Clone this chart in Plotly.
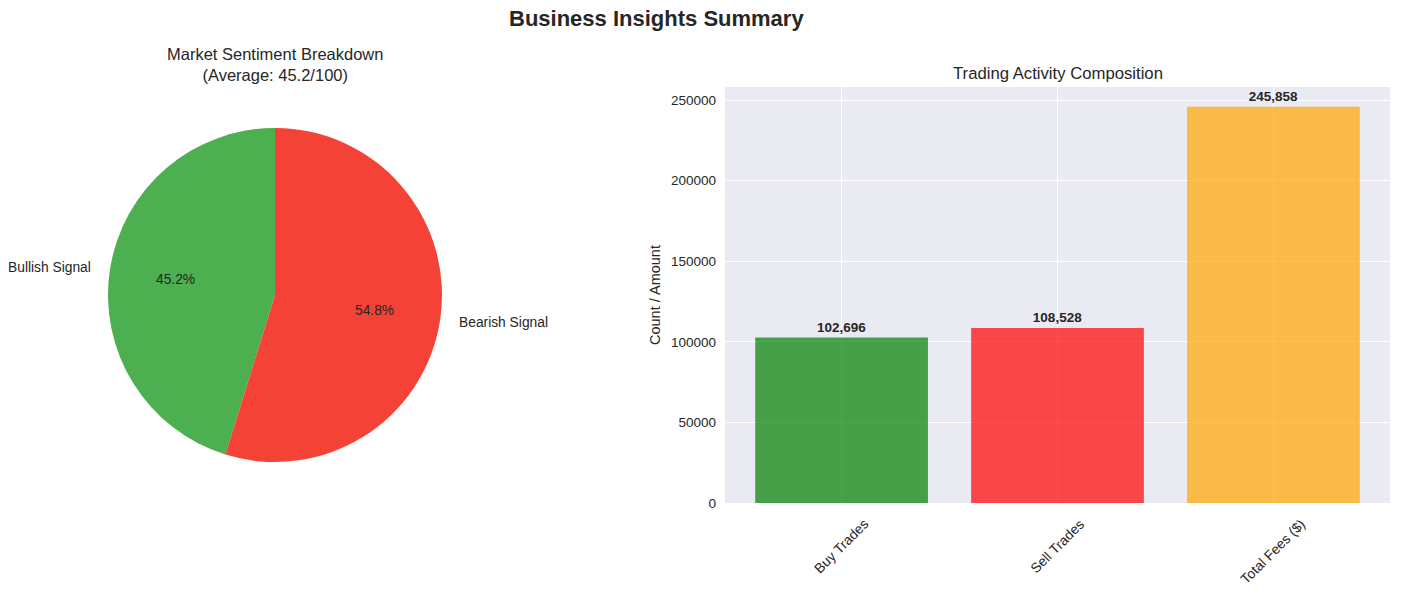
import math
import plotly.graph_objects as go

W, H = 1401, 593
HR = 585  # effective paper height seen in the rendered page

# data
sentiment_labels = ["Bullish Signal", "Bearish Signal"]
sentiment_values = [45.2, 54.8]
sentiment_colors = ["#4caf50", "#f44336"]
avg_sentiment = 45.2

trade_categories = ["Buy Trades", "Sell Trades", "Total Fees ($)"]
trade_values = [102696, 108528, 245858]
trade_colors = ["rgba(0,128,0,0.7)", "rgba(255,0,0,0.7)", "rgba(255,165,0,0.7)"]

TXT = "#262626"
FONT = "Liberation Sans, Arial, sans-serif"


def py_(y):
    # pixel row (from top) -> paper fraction
    return 1 - y / HR


# pie geometry in pixels
cx, cy, r = 275, 295, 167
total = sum(sentiment_values)

fig = go.Figure()

fig.add_trace(go.Pie(
    labels=sentiment_labels,
    values=sentiment_values,
    marker=dict(colors=sentiment_colors, line=dict(width=0)),
    sort=False,
    direction="clockwise",
    rotation=-360 * sentiment_values[0] / total,
    textinfo="none",
    hoverinfo="label+percent",
    domain=dict(x=[(cx - r) / W, (cx + r) / W], y=[py_(cy + r), py_(cy - r)]),
    showlegend=False,
))

fig.add_trace(go.Bar(
    x=[0, 1, 2],
    y=trade_values,
    width=0.8,
    marker=dict(color=trade_colors, line=dict(width=0)),
    text=[f"{v:,}" for v in trade_values],
    texttemplate="<b>%{text}</b>",
    textposition="outside",
    textfont=dict(size=13.5, color=TXT, family=FONT),
    cliponaxis=False,
    showlegend=False,
))

annotations = []

# pie labels and percentages like matplotlib (labeldistance 1.1, pctdistance 0.6)
cum = 0
for lab, v in zip(sentiment_labels, sentiment_values):
    theta = math.radians(90 + 360 * (cum + v / 2) / total)
    cum += v
    lx = cx + 1.1 * r * math.cos(theta)
    ly = cy - 1.1 * r * math.sin(theta)
    annotations.append(dict(
        x=lx / W, y=py_(ly), xref="paper", yref="paper", text=lab, showarrow=False,
        xanchor="right" if math.cos(theta) < 0 else "left", yanchor="middle",
        font=dict(size=13.8, color=TXT, family=FONT),
    ))
    px = cx + 0.6 * r * math.cos(theta)
    pyy = cy - 0.6 * r * math.sin(theta)
    annotations.append(dict(
        x=px / W, y=py_(pyy), xref="paper", yref="paper", text=f"{100 * v / total:.1f}%",
        showarrow=False, xanchor="center", yanchor="middle",
        font=dict(size=13.8, color=TXT, family=FONT),
    ))

# titles
annotations.append(dict(
    x=656 / W, y=py_(18), xref="paper", yref="paper", text="<b>Business Insights Summary</b>",
    showarrow=False, xanchor="center", yanchor="middle", font=dict(size=22, color=TXT, family=FONT),
))
annotations.append(dict(
    x=275 / W, y=py_(64), xref="paper", yref="paper",
    text=f"Market Sentiment Breakdown<br>(Average: {avg_sentiment}/100)",
    showarrow=False, xanchor="center", yanchor="middle", font=dict(size=16.5, color=TXT, family=FONT),
))
annotations.append(dict(
    x=1058 / W, y=py_(73), xref="paper", yref="paper", text="Trading Activity Composition",
    showarrow=False, xanchor="center", yanchor="middle", font=dict(size=16.7, color=TXT, family=FONT),
))

# rotated x tick labels, centred on ticks
for i, cat in enumerate(trade_categories):
    annotations.append(dict(
        x=i, y=py_(514), xref="x", yref="paper", text=cat, showarrow=False,
        textangle=-45, xanchor="center", yanchor="top",
        font=dict(size=13.8, color=TXT, family=FONT),
    ))

fig.update_layout(
    width=W, height=H,
    margin=dict(l=0, r=0, t=0, b=0),
    paper_bgcolor="white",
    plot_bgcolor="#eaeaf2",
    font=dict(family=FONT, color=TXT, size=13.5),
    xaxis=dict(
        domain=[725 / W, 1390 / W],
        range=[-0.54, 2.54],
        tickvals=[0, 1, 2],
        showticklabels=False,
        showgrid=True, gridcolor="white", gridwidth=1.2,
        zeroline=False, showline=False, ticks="",
    ),
    yaxis=dict(
        domain=[py_(503), py_(87)],
        range=[0, max(trade_values) * 1.05],
        tickvals=[0, 50000, 100000, 150000, 200000, 250000],
        ticktext=["0", "50000", "100000", "150000", "200000", "250000"],
        showgrid=True, gridcolor="white", gridwidth=1.2,
        zeroline=False, showline=False, ticks="",
        ticklabelstandoff=8,
        title=dict(text="Count / Amount", standoff=6, font=dict(size=14.5, color=TXT)),
        tickfont=dict(size=13.5, color=TXT),
    ),
    annotations=annotations,
)

# page body has a default margin; drop it so the figure sits at the window corner
fig.write_html(
    "out.html",
    config={"displayModeBar": False},
    post_script="document.body.style.margin='0';",
)
